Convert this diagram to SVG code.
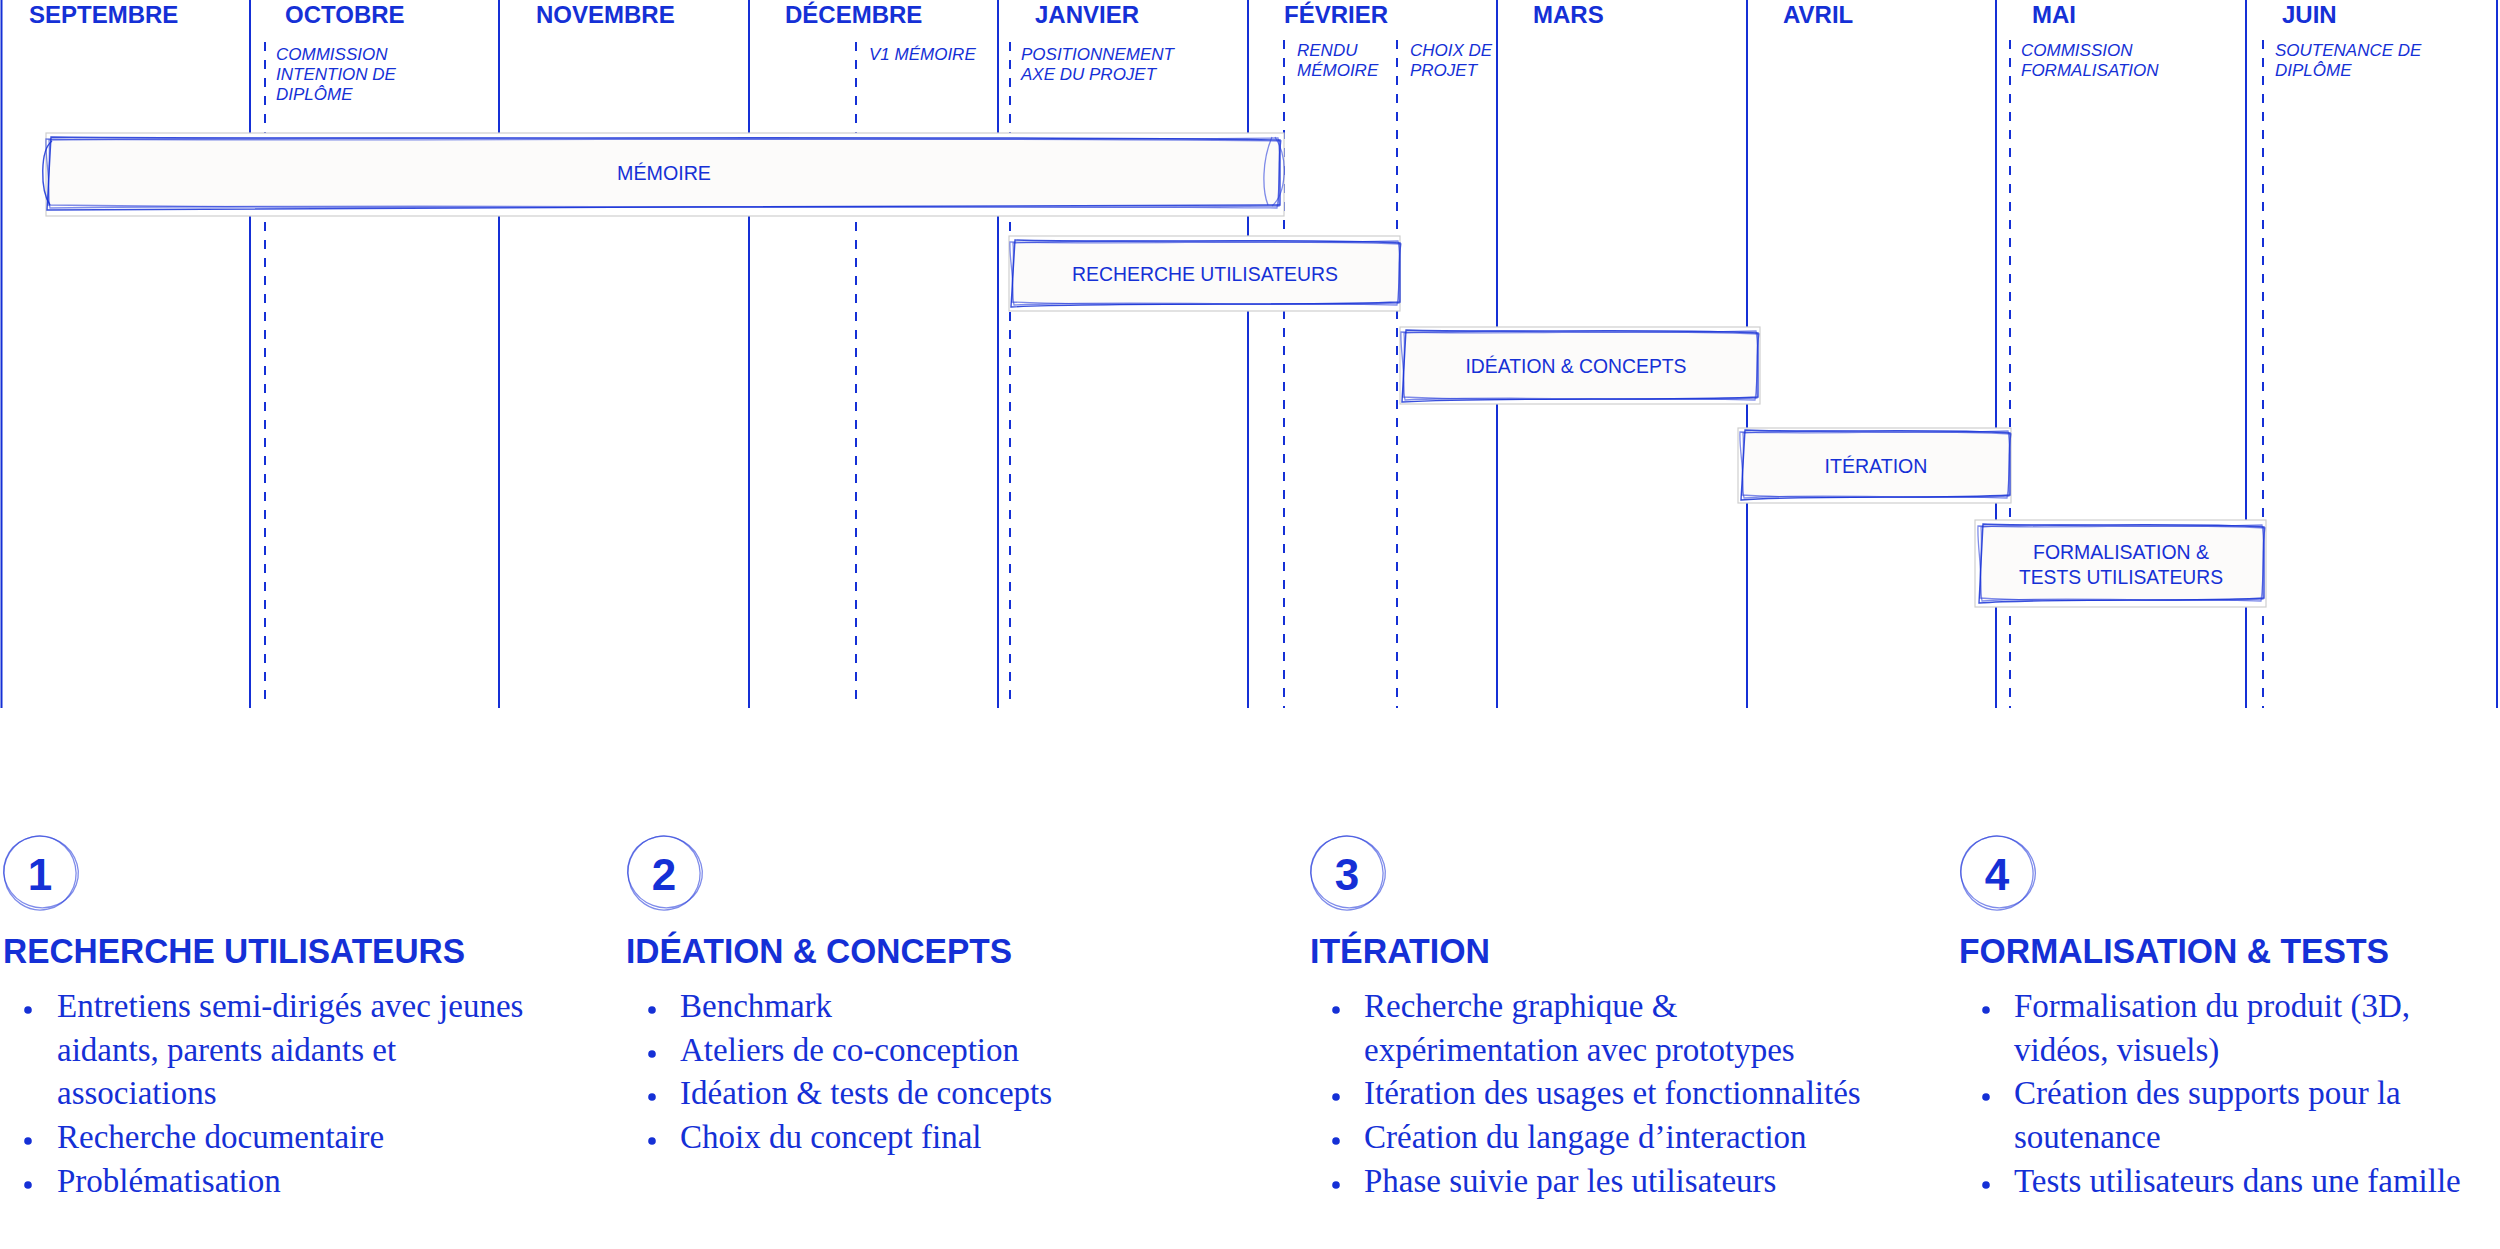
<svg xmlns="http://www.w3.org/2000/svg" width="2500" height="1249" viewBox="0 0 2500 1249">
<style>
.bg{fill:#ffffff}
.grid{stroke:#1530d6;stroke-width:2;fill:none}
.dash{stroke:#1530d6;stroke-width:2;stroke-dasharray:9 9;fill:none}
.month{font-family:"Liberation Sans",Arial,sans-serif;font-weight:700;font-size:24px;fill:#1530d6}
.ms{font-family:"Liberation Sans",Arial,sans-serif;font-style:italic;font-size:17px;fill:#1530d6}
.shadow{fill:#ffffff;stroke:#cfcfcf;stroke-width:1.2}
.inner{fill:#fcfbfa}
.sk{fill:none;stroke:#2a40dc;stroke-width:1.3;stroke-opacity:0.6}
.sk2{fill:none;stroke:#1530d6;stroke-width:1.4;stroke-opacity:0.85}
.lbl{font-family:"Liberation Sans",Arial,sans-serif;font-size:21px;fill:#1530d6;text-anchor:middle}
.num{font-family:"Liberation Sans",Arial,sans-serif;font-weight:700;font-size:44px;fill:#1530d6;text-anchor:middle}
.h{font-family:"Liberation Sans",Arial,sans-serif;font-weight:700;font-size:35px;fill:#1530d6}
.li{font-family:"Liberation Serif","Times New Roman",serif;font-size:33px;fill:#1530d6}
.dot{fill:#1530d6}
</style>
<rect class="bg" x="0" y="0" width="2500" height="1249"/>

<g id="connectors">
  <g id="month-lines">
    <line class="grid" x1="1.5" y1="0" x2="1.5" y2="708"/>
    <line class="grid" x1="250" y1="0" x2="250" y2="708"/>
    <line class="grid" x1="499" y1="0" x2="499" y2="708"/>
    <line class="grid" x1="749" y1="0" x2="749" y2="708"/>
    <line class="grid" x1="998" y1="0" x2="998" y2="708"/>
    <line class="grid" x1="1248" y1="0" x2="1248" y2="708"/>
    <line class="grid" x1="1497" y1="0" x2="1497" y2="708"/>
    <line class="grid" x1="1747" y1="0" x2="1747" y2="708"/>
    <line class="grid" x1="1996" y1="0" x2="1996" y2="708"/>
    <line class="grid" x1="2246" y1="0" x2="2246" y2="708"/>
    <line class="grid" x1="2497" y1="0" x2="2497" y2="708"/>
  </g>
  <g id="milestone-lines">
    <line class="dash" x1="265" y1="42" x2="265" y2="708"/>
    <line class="dash" x1="856" y1="42" x2="856" y2="708"/>
    <line class="dash" x1="1010" y1="42" x2="1010" y2="708"/>
    <line class="dash" x1="1284" y1="40" x2="1284" y2="708"/>
    <line class="dash" x1="1397" y1="40" x2="1397" y2="708"/>
    <line class="dash" x1="2010" y1="40" x2="2010" y2="708"/>
    <line class="dash" x1="2263" y1="40" x2="2263" y2="708"/>
  </g>
</g>

<g id="months">
  <text class="month" x="29" y="23">SEPTEMBRE</text>
  <text class="month" x="285" y="23">OCTOBRE</text>
  <text class="month" x="536" y="23">NOVEMBRE</text>
  <text class="month" x="785" y="23">DÉCEMBRE</text>
  <text class="month" x="1035" y="23">JANVIER</text>
  <text class="month" x="1284" y="23">FÉVRIER</text>
  <text class="month" x="1533" y="23">MARS</text>
  <text class="month" x="1783" y="23">AVRIL</text>
  <text class="month" x="2032" y="23">MAI</text>
  <text class="month" x="2282" y="23">JUIN</text>
</g>

<g id="milestones">
  <text class="ms" x="276" y="60">COMMISSION</text>
  <text class="ms" x="276" y="80">INTENTION DE</text>
  <text class="ms" x="276" y="100">DIPLÔME</text>
  <text class="ms" x="869" y="60">V1 MÉMOIRE</text>
  <text class="ms" x="1021" y="60">POSITIONNEMENT</text>
  <text class="ms" x="1021" y="80">AXE DU PROJET</text>
  <text class="ms" x="1297" y="56">RENDU</text>
  <text class="ms" x="1297" y="76">MÉMOIRE</text>
  <text class="ms" x="1410" y="56">CHOIX DE</text>
  <text class="ms" x="1410" y="76">PROJET</text>
  <text class="ms" x="2021" y="56">COMMISSION</text>
  <text class="ms" x="2021" y="76">FORMALISATION</text>
  <text class="ms" x="2275" y="56">SOUTENANCE DE</text>
  <text class="ms" x="2275" y="76">DIPLÔME</text>
</g>

<g id="bar-memoire">
  <rect class="shadow" x="46" y="133" width="1238" height="83"/>
  <rect class="inner" x="48" y="138" width="1231" height="69"/>
  <path class="sk" d="M49,140 C417,135 787,142 1278,138 C1282,159 1277,186 1279,206 C910,210 417,203 50,208 C46,186 51,159 49,140 Z"/>
  <path class="sk" d="M46,139 C479,142 848,136 1281,141 C1277,162 1281,183 1277,208 C848,204 479,211 48,205 C51,179 45,159 46,139 Z"/>
  <path class="sk2" d="M51,137 C356,140 971,135 1280,140 L1280,205 C971,209 356,205 47,210 Z"/>
  <path class="sk2" d="M52,141 C40,150 40,190 50,205"/>
  <path class="sk" d="M1272,137 C1262,160 1262,190 1268,205 M1275,137 C1290,160 1285,195 1272,206"/>
  <text class="lbl" x="664" y="180" textLength="94" lengthAdjust="spacingAndGlyphs">MÉMOIRE</text>
</g>

<g id="bar-recherche">
  <rect class="shadow" x="1009" y="236" width="391" height="75"/>
  <rect class="inner" x="1012" y="241" width="387" height="63"/>
  <path class="sk" d="M1013,243 C1128,238 1244,245 1398,241 C1402,260 1397,285 1399,303 C1283,307 1128,300 1014,305 C1010,285 1015,260 1013,243 Z"/>
  <path class="sk" d="M1010,242 C1147,245 1264,239 1401,244 C1397,263 1401,282 1397,305 C1264,301 1147,308 1012,302 C1015,279 1009,260 1010,242 Z"/>
  <path class="sk2" d="M1015,240 C1109,243 1302,238 1400,243 L1400,302 C1302,306 1109,302 1011,307 Z"/>
  <text class="lbl" x="1205" y="281" textLength="266" lengthAdjust="spacingAndGlyphs">RECHERCHE UTILISATEURS</text>
</g>

<g id="bar-ideation">
  <rect class="shadow" x="1400" y="327" width="360" height="77"/>
  <rect class="inner" x="1403" y="331" width="354" height="68"/>
  <path class="sk" d="M1404,333 C1509,328 1615,335 1756,331 C1760,351 1755,379 1757,398 C1651,402 1509,395 1405,400 C1401,379 1406,351 1404,333 Z"/>
  <path class="sk" d="M1401,332 C1527,335 1633,329 1759,334 C1755,355 1759,375 1755,400 C1633,396 1527,403 1403,397 C1406,372 1400,351 1401,332 Z"/>
  <path class="sk2" d="M1406,330 C1491,333 1668,328 1758,333 L1758,397 C1668,401 1491,397 1402,402 Z"/>
  <text class="lbl" x="1576" y="373" textLength="221" lengthAdjust="spacingAndGlyphs">IDÉATION &amp; CONCEPTS</text>
</g>

<g id="bar-iteration">
  <rect class="shadow" x="1738" y="428" width="273" height="75"/>
  <rect class="inner" x="1742" y="431" width="267" height="66"/>
  <path class="sk" d="M1743,433 C1822,428 1902,435 2008,431 C2012,451 2007,477 2009,496 C1929,500 1822,493 1744,498 C1740,477 1745,451 1743,433 Z"/>
  <path class="sk" d="M1740,432 C1835,435 1916,429 2011,434 C2007,454 2011,474 2007,498 C1916,494 1835,501 1742,495 C1745,471 1739,451 1740,432 Z"/>
  <path class="sk2" d="M1745,430 C1809,433 1942,428 2010,433 L2010,495 C1942,499 1809,495 1741,500 Z"/>
  <text class="lbl" x="1876" y="473" textLength="103" lengthAdjust="spacingAndGlyphs">ITÉRATION</text>
</g>

<g id="bar-formalisation">
  <rect class="shadow" x="1975" y="520" width="291" height="87"/>
  <rect class="inner" x="1980" y="525" width="283" height="75"/>
  <path class="sk" d="M1981,527 C2065,522 2150,529 2262,525 C2266,547 2261,577 2263,599 C2178,603 2065,596 1982,601 C1978,577 1983,547 1981,527 Z"/>
  <path class="sk" d="M1978,526 C2079,529 2164,523 2265,528 C2261,551 2265,574 2261,601 C2164,597 2079,604 1980,598 C1983,570 1977,547 1978,526 Z"/>
  <path class="sk2" d="M1983,524 C2051,527 2192,522 2264,527 L2264,598 C2192,602 2051,598 1979,603 Z"/>
  <text class="lbl" x="2121" y="559" textLength="176" lengthAdjust="spacingAndGlyphs">FORMALISATION &amp;</text>
  <text class="lbl" x="2121" y="584" textLength="204" lengthAdjust="spacingAndGlyphs">TESTS UTILISATEURS</text>
</g>

<g id="phase-1">
  <ellipse class="sk" cx="40" cy="873" rx="36" ry="37" transform="rotate(-12 40 873)"/>
  <ellipse class="sk" cx="41" cy="872" rx="37.5" ry="35.5" transform="rotate(20 41 872)"/>
  <text class="num" x="40" y="890">1</text>
  <text class="h" x="3" y="963" textLength="462" lengthAdjust="spacingAndGlyphs">RECHERCHE UTILISATEURS</text>
  <circle class="dot" cx="28" cy="1010" r="3.8"/>
  <text class="li" x="57" y="1017">Entretiens semi-dirigés avec jeunes</text>
  <text class="li" x="57" y="1061">aidants, parents aidants et</text>
  <text class="li" x="57" y="1104">associations</text>
  <circle class="dot" cx="28" cy="1141" r="3.8"/>
  <text class="li" x="57" y="1148">Recherche documentaire</text>
  <circle class="dot" cx="28" cy="1185" r="3.8"/>
  <text class="li" x="57" y="1192">Problématisation</text>
</g>

<g id="phase-2">
  <ellipse class="sk" cx="664" cy="873" rx="36" ry="37" transform="rotate(-12 664 873)"/>
  <ellipse class="sk" cx="665" cy="872" rx="37.5" ry="35.5" transform="rotate(20 665 872)"/>
  <text class="num" x="664" y="890">2</text>
  <text class="h" x="626" y="963" textLength="386" lengthAdjust="spacingAndGlyphs">IDÉATION &amp; CONCEPTS</text>
  <circle class="dot" cx="652" cy="1010" r="3.8"/>
  <text class="li" x="680" y="1017">Benchmark</text>
  <circle class="dot" cx="652" cy="1054" r="3.8"/>
  <text class="li" x="680" y="1061">Ateliers de co-conception</text>
  <circle class="dot" cx="652" cy="1097" r="3.8"/>
  <text class="li" x="680" y="1104">Idéation &amp; tests de concepts</text>
  <circle class="dot" cx="652" cy="1141" r="3.8"/>
  <text class="li" x="680" y="1148">Choix du concept final</text>
</g>

<g id="phase-3">
  <ellipse class="sk" cx="1347" cy="873" rx="36" ry="37" transform="rotate(-12 1347 873)"/>
  <ellipse class="sk" cx="1348" cy="872" rx="37.5" ry="35.5" transform="rotate(20 1348 872)"/>
  <text class="num" x="1347" y="890">3</text>
  <text class="h" x="1310" y="963" textLength="180" lengthAdjust="spacingAndGlyphs">ITÉRATION</text>
  <circle class="dot" cx="1336" cy="1010" r="3.8"/>
  <text class="li" x="1364" y="1017">Recherche graphique &amp;</text>
  <text class="li" x="1364" y="1061">expérimentation avec prototypes</text>
  <circle class="dot" cx="1336" cy="1097" r="3.8"/>
  <text class="li" x="1364" y="1104">Itération des usages et fonctionnalités</text>
  <circle class="dot" cx="1336" cy="1141" r="3.8"/>
  <text class="li" x="1364" y="1148">Création du langage d’interaction</text>
  <circle class="dot" cx="1336" cy="1185" r="3.8"/>
  <text class="li" x="1364" y="1192">Phase suivie par les utilisateurs</text>
</g>

<g id="phase-4">
  <ellipse class="sk" cx="1997" cy="873" rx="36" ry="37" transform="rotate(-12 1997 873)"/>
  <ellipse class="sk" cx="1998" cy="872" rx="37.5" ry="35.5" transform="rotate(20 1998 872)"/>
  <text class="num" x="1997" y="890">4</text>
  <text class="h" x="1959" y="963" textLength="430" lengthAdjust="spacingAndGlyphs">FORMALISATION &amp; TESTS</text>
  <circle class="dot" cx="1986" cy="1010" r="3.8"/>
  <text class="li" x="2014" y="1017">Formalisation du produit (3D,</text>
  <text class="li" x="2014" y="1061">vidéos, visuels)</text>
  <circle class="dot" cx="1986" cy="1097" r="3.8"/>
  <text class="li" x="2014" y="1104">Création des supports pour la</text>
  <text class="li" x="2014" y="1148">soutenance</text>
  <circle class="dot" cx="1986" cy="1185" r="3.8"/>
  <text class="li" x="2014" y="1192">Tests utilisateurs dans une famille</text>
</g>
</svg>
